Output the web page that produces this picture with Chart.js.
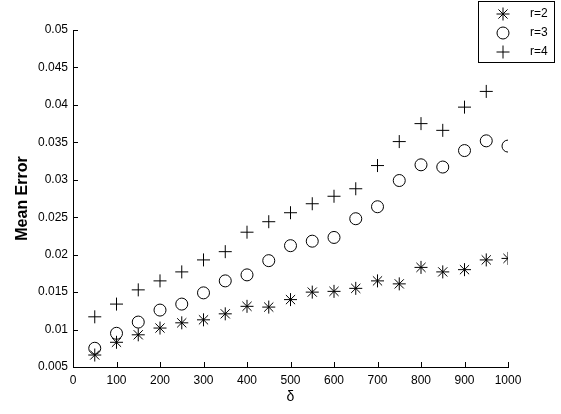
<!DOCTYPE html>
<html>
<head>
<meta charset="utf-8">
<script src="https://cdn.jsdelivr.net/npm/chart.js@4/dist/chart.umd.min.js"></script>
<style>
html,body{margin:0;padding:0;background:#fff;}
#wrap{position:relative;width:561px;height:414px;}
</style>
</head>
<body>
<div id="wrap"><canvas id="c" width="561" height="414"></canvas></div>
<script>
// ---- data ----
const deltaValues = [50,100,150,200,250,300,350,400,450,500,550,600,650,700,750,800,850,900,950,1000];
const errR2 = [0.0066,0.0083,0.0093,0.0102,0.0109,0.0113,0.0121,0.0131,0.0130,0.0140,0.0150,0.0151,0.0155,0.0165,0.0161,0.0183,0.0177,0.0180,0.0193,0.0195];
const errR3 = [0.0075,0.0095,0.0110,0.0126,0.0134,0.0149,0.0165,0.0173,0.0192,0.0212,0.0218,0.0223,0.0248,0.0264,0.0299,0.0320,0.0317,0.0339,0.0352,0.0345];
const errR4 = [0.0117,0.0134,0.0153,0.0165,0.0177,0.0193,0.0204,0.0230,0.0244,0.0256,0.0268,0.0278,0.0288,0.0319,0.0351,0.0375,0.0366,0.0397,0.0418];
const seriesLabels = ['r=2','r=3','r=4'];
const xTickValues = [0,100,200,300,400,500,600,700,800,900,1000];
const yTickValues = [0.005,0.01,0.015,0.02,0.025,0.03,0.035,0.04,0.045,0.05];
const xTitle = 'δ';
const yTitle = 'Mean Error';

const pts = (ys) => ys.map((y,i)=>({x:deltaValues[i], y:y}));

const FONT = 'Arial, "Liberation Sans", sans-serif';

const inwardTicks = {
  id:'inwardTicks',
  afterDatasetsDraw(chart){
    const ctx = chart.ctx, xs = chart.scales.x, ys = chart.scales.y, a = chart.chartArea;
    ctx.save();
    ctx.strokeStyle = '#000'; ctx.lineWidth = 1;
    ctx.beginPath();
    xs.ticks.forEach(t=>{
      const px = Math.round(xs.getPixelForValue(t.value)) + 0.5;
      ctx.moveTo(px, a.bottom); ctx.lineTo(px, a.bottom - 5);
    });
    ys.ticks.forEach(t=>{
      const py = Math.round(ys.getPixelForValue(t.value)) + 0.5;
      ctx.moveTo(a.left, py); ctx.lineTo(a.left + 5, py);
    });
    ctx.stroke();
    ctx.restore();
  }
};

const boxLegend = {
  id:'boxLegend',
  afterDraw(chart){
    const ctx = chart.ctx;
    const bx = 478.5, by = 1.5, bw = 76, bh = 61;
    ctx.save();
    ctx.fillStyle = '#fff';
    ctx.fillRect(bx, by, bw, bh);
    ctx.strokeStyle = '#000'; ctx.lineWidth = 1;
    ctx.strokeRect(bx, by, bw, bh);
    ctx.font = '12px ' + FONT;
    ctx.textBaseline = 'middle';
    chart.data.datasets.forEach((ds,i)=>{
      const cy = 14 + i*19;
      ctx.fillStyle = 'rgba(0,0,0,0)';
      ctx.strokeStyle = '#000';
      ctx.lineWidth = 1;
      Chart.helpers.drawPoint(ctx, {
        pointStyle: ds.pointStyle, radius: ds.pointRadius, rotation: 0, borderWidth: 1
      }, 503, cy);
      ctx.fillStyle = '#000';
      ctx.fillText(ds.label, 530, cy);
    });
    ctx.restore();
  }
};

const mk = (label, data, style, r) => ({
  label, data, showLine:false, pointStyle:style, pointRadius:r, pointHoverRadius:r,
  borderColor:'#000', backgroundColor:'rgba(0,0,0,0)', pointBorderWidth:1, borderWidth:1
});

new Chart(document.getElementById('c'), {
  type:'scatter',
  data:{
    datasets:[
      mk(seriesLabels[0], pts(errR2), 'star', 6.5),
      mk(seriesLabels[1], pts(errR3), 'circle', 6),
      mk(seriesLabels[2], pts(errR4), 'cross', 6.5)
    ]
  },
  options:{
    responsive:false, animation:false, devicePixelRatio:1,
    layout:{padding:{top:30, right:53, left:0, bottom:0}},
    plugins:{legend:{display:false}, tooltip:{enabled:false}},
    scales:{
      x:{
        type:'linear', min:0, max:1000,
        afterBuildTicks:(s)=>{ s.ticks = xTickValues.map(v=>({value:v})); },
        afterFit:(s)=>{ s.height = 47; },
        grid:{display:true, drawOnChartArea:false, drawTicks:false},
        border:{display:true, color:'#000', width:1},
        ticks:{color:'#000', font:{family:FONT, size:12}, padding:6, maxRotation:0,
          callback:(v)=>String(v)},
        title:{display:true, text:xTitle, color:'#000', font:{family:FONT, size:14}, padding:{top:0,bottom:8}}
      },
      y:{
        type:'linear', min:0.005, max:0.05,
        afterBuildTicks:(s)=>{ s.ticks = yTickValues.map(v=>({value:v})); },
        afterFit:(s)=>{ s.width = 73; },
        grid:{display:true, drawOnChartArea:false, drawTicks:false},
        border:{display:true, color:'#000', width:1},
        ticks:{color:'#000', font:{family:FONT, size:12}, padding:5,
          callback:(v)=>String(v)},
        title:{display:true, text:yTitle, color:'#000', font:{family:FONT, size:16, weight:'bold'}, padding:{top:13,bottom:0}}
      }
    }
  },
  plugins:[inwardTicks, boxLegend]
});
</script>
</body>
</html>
